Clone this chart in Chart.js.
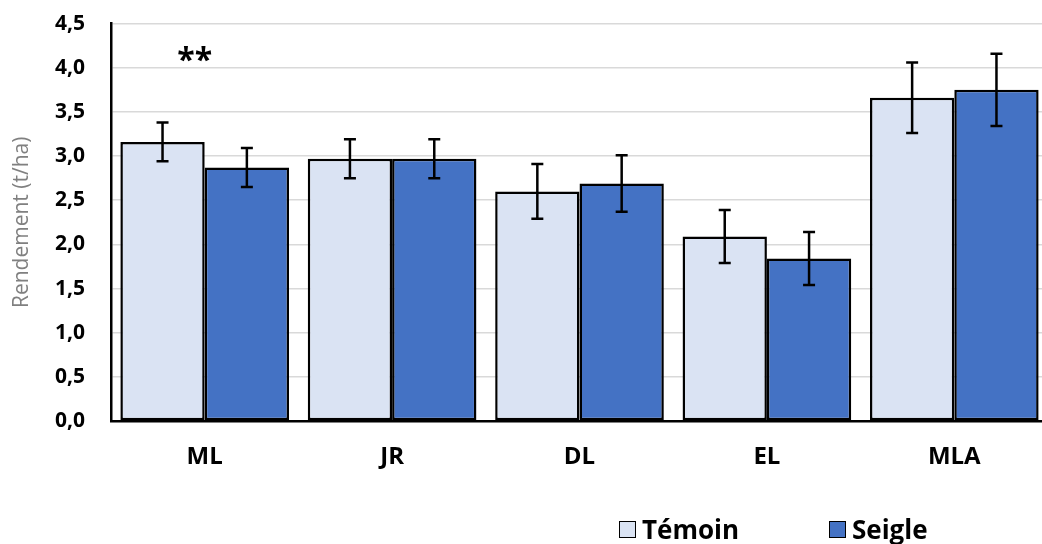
<!DOCTYPE html>
<html>
<head>
<meta charset="utf-8">
<script src="https://cdn.jsdelivr.net/npm/chart.js@4/dist/chart.umd.min.js"></script>
<style>
  body { margin: 0; overflow: hidden; background: #fff; width: 1042px; height: 544px; position: relative; }
  #chart { position: absolute; left: 0; top: -15px; }
  .legend-item { position: absolute; top: 511px; font: bold 26px "Open Sans", sans-serif; color: #000; display: flex; align-items: center; }
  .legend-box { width: 15px; height: 15px; border: 1.5px solid #000; margin-right: 6px; }
</style>
</head>
<body>
<canvas id="chart" width="1050" height="559"></canvas>
<div class="legend-item" style="left:619px"><span class="legend-box" style="background:#DAE3F3"></span>Témoin</div>
<div class="legend-item" style="left:829px"><span class="legend-box" style="background:#4472C4"></span>Seigle</div>
<script>
// Chart data
const categories = ["ML", "JR", "DL", "EL", "MLA"];
const temoinValues = [3.16, 2.97, 2.60, 2.09, 3.66];
const temoinErrors = [0.22, 0.22, 0.31, 0.30, 0.40];
const seigleValues = [2.87, 2.97, 2.69, 1.84, 3.75];
const seigleErrors = [0.22, 0.22, 0.32, 0.30, 0.41];
const yTickLabels = ["0,0", "0,5", "1,0", "1,5", "2,0", "2,5", "3,0", "3,5", "4,0", "4,5"];

// Error bars drawn on top of each bar
const errorBars = {
  id: "errorBars",
  afterDatasetsDraw(chart) {
    const ctx = chart.ctx;
    const yScale = chart.scales.y;
    chart.data.datasets.forEach((ds, i) => {
      const meta = chart.getDatasetMeta(i);
      meta.data.forEach((bar, j) => {
        const v = ds.data[j];
        const e = ds.errors[j];
        const top = yScale.getPixelForValue(v + e);
        const bottom = yScale.getPixelForValue(v - e);
        ctx.save();
        ctx.strokeStyle = "#000";
        ctx.lineWidth = 2.5;
        ctx.beginPath();
        ctx.moveTo(bar.x, top);
        ctx.lineTo(bar.x, bottom);
        ctx.moveTo(bar.x - 6, top);
        ctx.lineTo(bar.x + 6, top);
        ctx.moveTo(bar.x - 6, bottom);
        ctx.lineTo(bar.x + 6, bottom);
        ctx.stroke();
        ctx.restore();
      });
    });
  },
};

// "**" significance mark above ML
const signifMark = {
  id: "signifMark",
  afterDraw(chart) {
    const ctx = chart.ctx;
    const x = chart.scales.x.getPixelForValue(0) - 10;
    const y = chart.scales.y.getPixelForValue(4.16);
    ctx.save();
    ctx.font = 'bold 32px "Open Sans", sans-serif';
    ctx.fillStyle = "#000";
    ctx.textAlign = "center";
    ctx.textBaseline = "middle";
    ctx.fillText("**", x, y + 8);
    ctx.restore();
  },
};

new Chart(document.getElementById("chart"), {
  type: "bar",
  data: {
    labels: categories,
    datasets: [
      {
        label: "Témoin",
        data: temoinValues,
        errors: temoinErrors,
        backgroundColor: "#DAE3F3",
        borderColor: "#000",
        borderWidth: 2.5,
        borderSkipped: false,
        categoryPercentage: 0.9,
        barPercentage: 1.0,
      },
      {
        label: "Seigle",
        data: seigleValues,
        errors: seigleErrors,
        backgroundColor: "#4472C4",
        borderColor: "#000",
        borderWidth: 2.5,
        borderSkipped: false,
        categoryPercentage: 0.9,
        barPercentage: 1.0,
      },
    ],
  },
  options: {
    responsive: false,
    animation: false,
    layout: { padding: { top: 0, right: 2, left: 0, bottom: 0 } },
    plugins: {
      legend: { display: false },
      tooltip: { enabled: false },
    },
    scales: {
      x: {
        grid: { display: false, drawTicks: false },
        border: { color: "#000", width: 2.5 },
        ticks: {
          color: "#000",
          padding: 22,
          font: { family: "Open Sans", size: 24, weight: "bold" },
        },
        afterFit(scale) {
          scale.height = 123;
        },
      },
      y: {
        min: 0,
        max: 4.5,
        grid: { color: "#d9d9d9", lineWidth: 1.5, drawTicks: false },
        border: { color: "#000", width: 2.5 },
        ticks: {
          stepSize: 0.5,
          color: "#000",
          padding: 26,
          font: { family: "Open Sans", size: 21, weight: "bold" },
          callback: (value, index) => yTickLabels[index],
        },
        title: {
          display: true,
          text: "Rendement (t/ha)",
          color: "#808080",
          padding: { top: 9, bottom: 0 },
          font: { family: "Open Sans", size: 21 },
        },
        afterFit(scale) {
          scale.width = 111;
        },
      },
    },
  },
  plugins: [errorBars, signifMark],
});
</script>
</body>
</html>
